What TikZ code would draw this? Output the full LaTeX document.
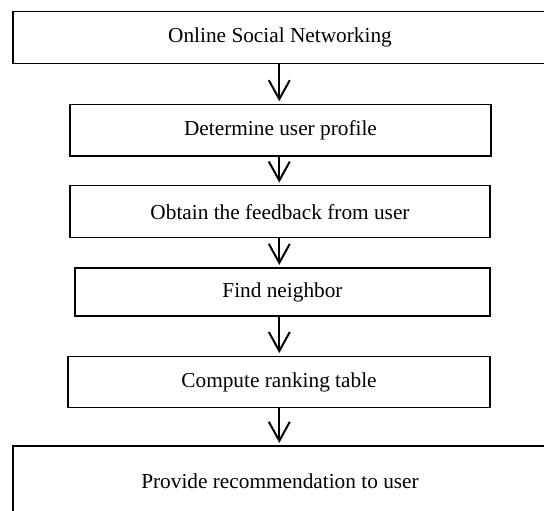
\documentclass[tikz,border=0pt]{standalone}
\usepackage{fontspec}
\setmainfont{Liberation Serif}
\usetikzlibrary{arrows.meta}

\tikzset{
  stage/.style={draw, line width=1.2pt, inner sep=0pt, align=center,
    font=\fontsize{21.3}{25}\selectfont},
  flow/.style={line width=2pt, shorten >=2.5pt,
    -{Straight Barb[length=19pt, width=21pt, line width=2pt]}}
}

\begin{document}
\begin{tikzpicture}[x=1pt, y=-1pt]
      \useasboundingbox (0,0) rectangle (544,511);
      % onlineSocial:
      %   source of the user data, wider than the picture on the right
      \node[stage, minimum width=534pt, minimum height=51.6pt]
        (onlineSocial) at (280,37.5) {Online Social Networking};
      % userProfile, feedback, neighbor, rankingTable:
      %   the four processing steps
      \node[stage, minimum width=421pt, minimum height=51.7pt]
        (userProfile) at (280.5,130.2) {Determine user profile};
      \node[stage, minimum width=420pt, minimum height=52pt]
        (feedback) at (280,211.7) {Obtain the feedback from user};
      \node[stage, minimum width=415pt, minimum height=48pt]
        (neighbor) at (282.5,292) {Find neighbor};
      \node[stage, minimum width=422pt, minimum height=51.7pt]
        (rankingTable) at (279,382) {Compute ranking table};
      % recommendation:
      %   final output, runs off the bottom edge
      \node[stage, minimum width=534pt, minimum height=71.4pt]
        (recommendation) at (280,481.7) {Provide recommendation to user};
      % arrows between the stages
      \draw[flow] (onlineSocial.south -| 279.3,0) -- (userProfile.north -| 279.3,0);
      \draw[flow] (userProfile.south -| 279.3,0) -- (feedback.north -| 279.3,0);
      \draw[flow] (feedback.south -| 279.3,0) -- (neighbor.north -| 279.3,0);
      \draw[flow] (neighbor.south -| 279.3,0) -- (rankingTable.north -| 279.3,0);
      \draw[flow] (rankingTable.south -| 279.3,0) -- (recommendation.north -| 279.3,0);
\end{tikzpicture}
\end{document}
